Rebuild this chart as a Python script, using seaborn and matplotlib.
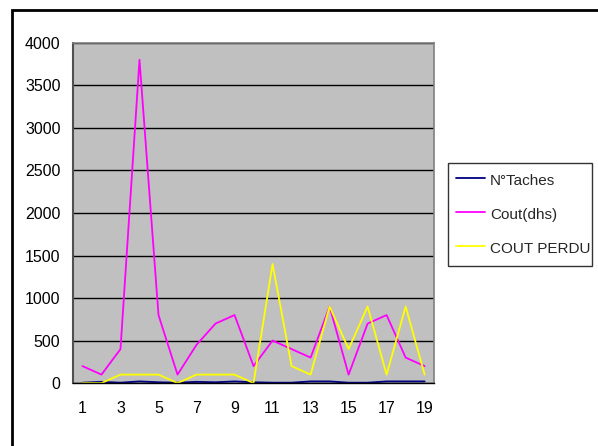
import numpy as np
import pandas as pd
import matplotlib
matplotlib.use('Agg')
import matplotlib.pyplot as plt
import seaborn as sns
from matplotlib.patches import Rectangle

sns.set_theme(style='white')
plt.rcParams['font.family'] = ['Liberation Sans', 'DejaVu Sans']

# data
taches = [1, 2, 3, 4, 5, 6, 7, 8, 9, 10, 11, 12, 13, 14, 15, 16, 17, 18, 19]
nb_taches = [5, 15, 5, 20, 10, 5, 15, 10, 20, 10, 5, 5, 20, 20, 5, 5, 20, 20, 20]
cout_dhs = [200, 100, 400, 3800, 800, 100, 450, 700, 800, 200, 500, 400, 300, 900, 100, 700, 800, 300, 200]
cout_perdu = [0, 0, 100, 100, 100, 0, 100, 100, 100, 0, 1400, 200, 100, 900, 400, 900, 100, 900, 100]

df = pd.DataFrame({'tache': taches,
                   'N°Taches': nb_taches,
                   'Cout(dhs)': cout_dhs,
                   'COUT PERDU': cout_perdu})
long_df = df.melt(id_vars='tache', var_name='serie', value_name='valeur')

palette = {'N°Taches': '#000080', 'Cout(dhs)': '#FF00FF', 'COUT PERDU': '#FFFF00'}

fig = plt.figure(figsize=(5.98, 4.46), dpi=100)
ax = fig.add_axes([0.122, 0.141, 0.604, 0.763])
ax.set_facecolor('#C0C0C0')

sns.lineplot(data=long_df, x='tache', y='valeur', hue='serie', palette=palette,
             linewidth=1.3, ax=ax, legend=True)

ax.set_xlim(0.5, 19.5)
ax.set_ylim(0, 4000)
ax.set_yticks(np.arange(0, 4001, 500))
ax.yaxis.grid(True, color='black', linewidth=1)
ax.set_axisbelow(True)

ax.set_xticks(np.arange(1, 20, 2))
ax.set_xticks(np.arange(0.5, 20, 1), minor=True)
ax.tick_params(axis='x', which='major', length=0, pad=13, labelsize=11.5)
ax.tick_params(axis='x', which='minor', length=6, width=1, color='black', direction='out')
ax.tick_params(axis='y', length=5, width=1, color='black', direction='out', pad=4, labelsize=11.5)
ax.tick_params(axis='both', labelcolor='black')
ax.set_xlabel('')
ax.set_ylabel('')

for side in ['top', 'right']:
    ax.spines[side].set_color('#808080')
    ax.spines[side].set_linewidth(1.2)
ax.spines['left'].set_color('#505050')
ax.spines['left'].set_linewidth(1.5)
ax.spines['bottom'].set_color('black')
ax.spines['bottom'].set_linewidth(1)

handles, labels = ax.get_legend_handles_labels()
ax.legend_.remove()
leg = fig.legend(handles, labels, loc='upper left',
                 bbox_to_anchor=(0.749, 0.635, 0.241, 0.0), mode='expand',
                 frameon=True, fancybox=False, edgecolor='black', fontsize=11,
                 handlelength=1.9, handleheight=1.4, handletextpad=0.3,
                 labelspacing=1.08, borderpad=0.55, borderaxespad=0)
leg.get_frame().set_linewidth(1)
leg.get_frame().set_facecolor('white')

# outer frame of the chart
fig.patches.append(Rectangle((12 / 598, -0.1), 1.2, 1 - 10 / 446 + 0.1,
                             transform=fig.transFigure, fill=False,
                             edgecolor='black', linewidth=2))

fig.savefig('out.png', dpi=100)
